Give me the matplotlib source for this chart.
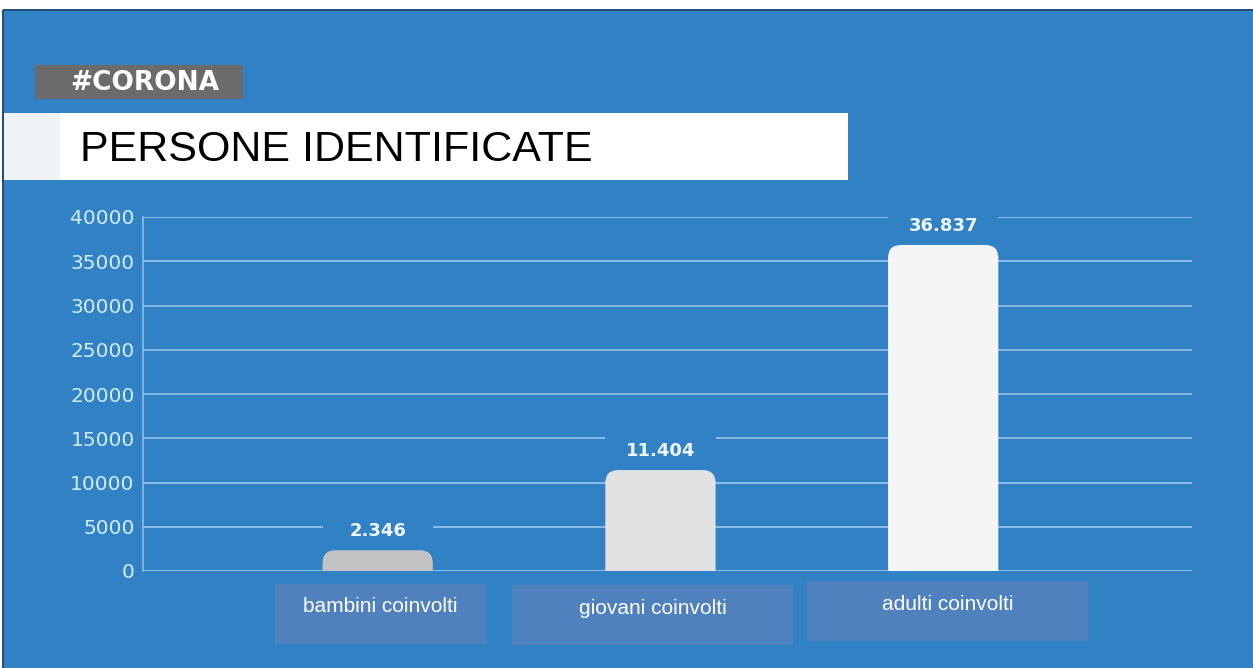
import matplotlib
matplotlib.use("Agg")
import matplotlib.pyplot as plt
from matplotlib.patches import Rectangle, FancyBboxPatch

categories = ["bambini coinvolti", "giovani coinvolti", "adulti coinvolti"]
values = [2346, 11404, 36837]
value_labels = ["2.346", "11.404", "36.837"]
yticks = [0, 5000, 10000, 15000, 20000, 25000, 30000, 35000, 40000]
title = "PERSONE IDENTIFICATE"
tag = "#CORONA"

BLUE = "#3182c5"
GRID = "#8dbbe6"
TICK = "#d3ecf6"
bar_colors = ["#c2c2c2", "#e2e2e2", "#f5f5f5"]
LABEL_BOX = "#4f81bd"

W, H = 1253, 668
fig = plt.figure(figsize=(W / 100, H / 100), dpi=100)
fig.patch.set_facecolor("white")

def fr(x0, y0, x1, y1, **kw):
    """rectangle in figure pixel coordinates (top-left origin)"""
    r = Rectangle((x0 / W, 1 - y1 / H), (x1 - x0) / W, (y1 - y0) / H,
                  transform=fig.transFigure, **kw)
    fig.patches.append(r)
    return r

# background
fr(3, 10, W, H, facecolor=BLUE, edgecolor="none", zorder=0)
fr(3, 9, W, 11, facecolor="#1f4f7a", edgecolor="none", zorder=1)
fr(2, 10, 4, H, facecolor="#1f4f7a", edgecolor="none", zorder=1)

# tag box
fr(35, 65, 243, 99, facecolor="#6b6b6b", edgecolor="none", zorder=2)
fig.text(70 / W, 1 - 83 / H, tag, color="white", fontsize=19, fontweight="bold",
         family="DejaVu Sans", ha="left", va="center", zorder=3)

# title box
fr(4, 113, 60, 180, facecolor="#eef3f8", edgecolor="none", zorder=2)
fr(60, 113, 848, 180, facecolor="white", edgecolor="none", zorder=2)
fig.text(80 / W, 1 - 150 / H, title, color="black", fontsize=31,
         family="Liberation Sans", ha="left", va="center", zorder=3)

# axes
ax = fig.add_axes([143 / W, 97 / H, (1192 - 143) / W, (571 - 217) / H])
ax.set_zorder(5)
ax.set_facecolor("none")
ax.set_xlim(-0.83, 2.88)
ax.set_ylim(0, 40000)
ax.set_yticks(yticks)
ax.set_yticklabels([str(t) for t in yticks], color=TICK, fontsize=14.5,
                   family="DejaVu Sans")
ax.tick_params(axis="y", length=0, pad=6)
ax.set_xticks([])
for s in ["top", "right", "bottom"]:
    ax.spines[s].set_visible(False)
ax.spines["left"].set_color(GRID)
ax.spines["left"].set_linewidth(1.2)
ax.grid(axis="y", color=GRID, linewidth=1.4, zorder=1)
ax.set_axisbelow(True)

xs = list(range(len(categories)))
bars = ax.bar(xs, values, width=0.39, color=bar_colors, zorder=2)

fig.canvas.draw()
# data units per pixel
(x0p, y0p) = ax.transData.transform((0, 0))
(x1p, y1p) = ax.transData.transform((1, 1000))
ux = 1 / (x1p - x0p)
uy = 1000 / (y1p - y0p)
radius_px = 13
for b, c in zip(bars, bar_colors):
    b.set_visible(False)
    bx, bw, bh = b.get_x(), b.get_width(), b.get_height()
    ext = radius_px * uy
    p = FancyBboxPatch((bx, -ext), bw, bh + ext,
                       boxstyle=f"round,pad=0,rounding_size={radius_px * ux}",
                       mutation_aspect=uy / ux, facecolor=c, edgecolor="none",
                       zorder=3)
    ax.add_patch(p)

# value labels with gap in the gridlines
off_px = 21
for b, lab in zip(bars, value_labels):
    cx = b.get_x() + b.get_width() / 2
    ly = b.get_height() + off_px * uy
    gap_h = 14 * uy
    ax.add_patch(Rectangle((b.get_x(), ly - gap_h), b.get_width(), 2 * gap_h,
                           facecolor=BLUE, edgecolor="none", zorder=1.5,
                           clip_on=False))
    ax.text(cx, ly - 2 * uy, lab, ha="center", va="center", color="#eef5fb",
            fontsize=13, fontweight="bold", family="DejaVu Sans", zorder=4,
            clip_on=False)

# category label boxes
boxes = [(275, 584, 486, 644), (512, 585, 793, 645), (807, 581, 1088, 641)]
text_y = [607, 608, 605]
for (bx0, by0, bx1, by1), cat, ty, xi in zip(boxes, categories, text_y, xs):
    fr(bx0, by0, bx1, by1, facecolor=LABEL_BOX, edgecolor="none", zorder=2)
    fig.text((bx0 + bx1) / 2 / W, 1 - ty / H, cat, color="white", fontsize=15,
             family="Liberation Sans", ha="center", va="center", zorder=3)

fig.savefig("out.png", dpi=100, facecolor=fig.get_facecolor())
